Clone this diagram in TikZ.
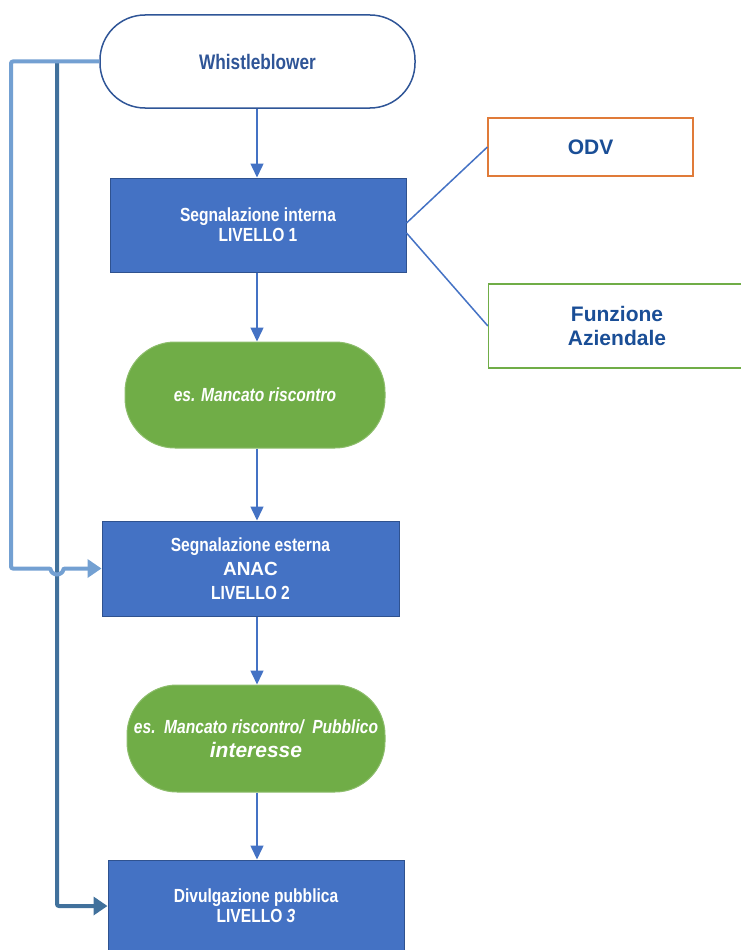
\documentclass[tikz,border=0pt]{standalone}
\usepackage{fontspec}
\setmainfont{Liberation Sans}
\newfontfamily\narrowfont{Liberation Sans}[FakeStretch=0.82]
\usepackage{tikz}
\usetikzlibrary{arrows.meta,calc}
\definecolor{boxblue}{HTML}{4472C4}
\definecolor{boxedge}{HTML}{2F528F}
\definecolor{leafgreen}{HTML}{70AD47}
\definecolor{wbblue}{HTML}{2F5597}
\definecolor{navytext}{HTML}{1A4E96}
\definecolor{odvorange}{HTML}{E07B39}
\definecolor{sidelight}{HTML}{73A0D2}
\definecolor{sidedark}{HTML}{41719C}

\begin{document}
\begin{tikzpicture}[x=1pt,y=-1pt,
  levelbox/.style={draw=boxedge,line width=1pt,fill=boxblue,text=white,align=center,
    inner sep=0pt,minimum width=296pt,minimum height=94pt,
    font=\narrowfont\bfseries\fontsize{19}{20}\selectfont},
  leafbox/.style={draw=leafgreen!80!white,line width=1pt,fill=leafgreen,text=white,
    align=center,inner sep=0pt,rounded corners=50pt,minimum width=260pt,minimum height=106pt,
    font=\narrowfont\bfseries\itshape\fontsize{19}{24}\selectfont},
  sidebox/.style={line width=1.2pt,fill=white,text=navytext,align=center,inner sep=0pt,
    font=\bfseries\fontsize{21}{24}\selectfont},
  flowarrow/.style={draw=boxblue,line width=1.5pt,-{Triangle[length=14pt,width=13pt]}},
  tieline/.style={draw=boxblue,line width=1.5pt},
  sidelink/.style={draw=sidelight,line width=4pt,rounded corners=2pt,
    -{Triangle[length=14pt,width=18pt]}},
  mainlink/.style={draw=sidedark,line width=4pt,rounded corners=2pt,
    -{Triangle[length=14pt,width=18pt]}}]
\useasboundingbox (0,0) rectangle (741,950);
% boxes:
\node[draw=wbblue,line width=1.5pt,fill=white,rounded corners=45pt,text=wbblue,
  minimum width=315pt,minimum height=93pt,inner sep=0pt,
  font=\narrowfont\bfseries\fontsize{21}{24}\selectfont] (wb) at (257.5,61.5) {Whistleblower};
\node[levelbox] (lv1) at (258,225) {Segnalazione interna\\LIVELLO 1};
\node[sidebox,draw=odvorange,minimum width=205pt,minimum height=58pt] (odv) at (590.5,147) {ODV};
\node[sidebox,draw=leafgreen,minimum width=257pt,minimum height=84pt] (funz) at (617,326)
  {Funzione\\Aziendale};
\node[leafbox] (g1) at (255,395) {es. Mancato riscontro};
\node[levelbox,minimum width=297pt,minimum height=95pt,
  font=\narrowfont\bfseries\fontsize{19}{24}\selectfont] (lv2) at (250.5,568.5)
  {Segnalazione esterna\\{\normalfont\bfseries\fontsize{19}{24}\selectfont ANAC}\\LIVELLO 2};
\node[leafbox,minimum width=258pt,minimum height=107pt] (g2) at (256,738.5)
  {es.\ \ Mancato riscontro/\ \ Pubblico\\{\normalfont\bfseries\itshape\fontsize{21}{24}\selectfont interesse}};
\node[levelbox,minimum height=92pt] (lv3) at (256,906) {Divulgazione pubblica\\LIVELLO \textit{3}};
% connectors:
\coordinate (spine) at (257,0);
\coordinate (outer) at (11,0);
\coordinate (branch) at (57,0);
\draw[flowarrow] (wb.south -| spine) -- (lv1.north -| spine);
\draw[flowarrow] (lv1.south -| spine) -- (g1.north -| spine);
\draw[flowarrow] (g1.south -| spine) -- (lv2.north -| spine);
\draw[flowarrow] (lv2.south -| spine) -- (g2.north -| spine);
\draw[flowarrow] (g2.south -| spine) -- (lv3.north -| spine);
\draw[tieline] ([yshift=2pt]lv1.east) -- (odv.west);
\draw[tieline] ([yshift=-8pt]lv1.east) -- (funz.west);
\draw[mainlink] (branch |- wb.west) |- (lv3.west);
\draw[sidelink] (wb.west) -| (outer |- lv2.west) -- ($(branch |- lv2.west)+(-6,0)$)
  arc[start angle=180,end angle=0,radius=6] -- (lv2.west);
\end{tikzpicture}
\end{document}
